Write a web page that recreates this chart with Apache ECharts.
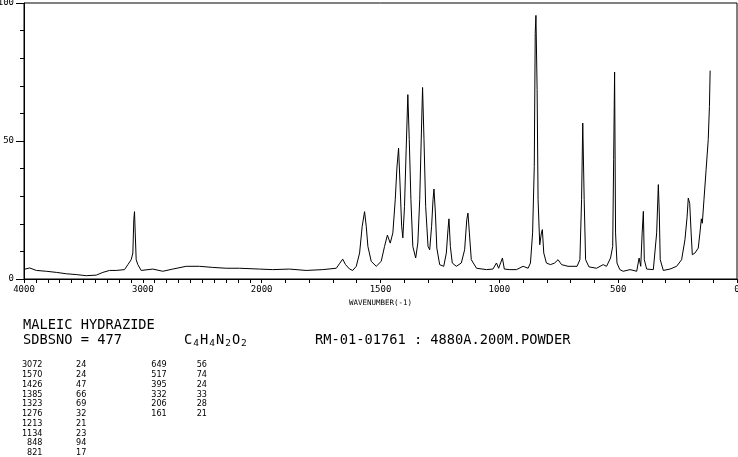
<!DOCTYPE html>
<html><head><meta charset="utf-8">
<script src="https://cdn.jsdelivr.net/npm/echarts@6/dist/echarts.min.js"></script>
<style>html,body{margin:0;padding:0;background:#fff}#c{width:738px;height:457px}</style>
</head><body><div id="c"></div>
<script>
// ---- spectrum (wavenumber cm-1, relative intensity) ----
const wavenumbers = [4000,3952,3896,3812,3728,3644,3560,3476,3392,3336,3280,3224,3154,3126,3098,3084,3076,3070,3064,3056,3042,3014,2916,2832,2748,2635,2524,2412,2299,2187,2019,1954,1883,1813,1743,1686,1673,1659,1647,1630,1617,1602,1588,1577,1567,1560,1553,1539,1518,1497,1483,1471,1459,1448,1438,1431,1424,1418,1411,1406,1399,1392,1385,1379,1372,1364,1352,1343,1335,1328,1323,1317,1310,1300,1293,1285,1279,1275,1269,1263,1251,1234,1223,1216,1212,1206,1198,1181,1160,1146,1137,1132,1126,1118,1096,1054,1027,1012,1003,987,979,956,928,900,879,869,860,853,849,846,841,837,830,823,819,813,802,785,767,753,738,711,673,661,654,649,643,637,623,591,563,549,532,523,519,515,511,505,493,479,450,422,412,405,399,394,390,380,352,338,331,327,323,310,282,254,233,219,210,205,199,193,188,177,163,156,150,146,139,130,121,116,113];
const intensities = [3.5,4.0,3.1,2.8,2.4,1.9,1.6,1.2,1.4,2.4,3.1,3.1,3.4,5.2,7.0,9.4,21.5,24.4,16.7,7.0,5.2,3.1,3.6,2.8,3.6,4.6,4.6,4.2,3.9,3.9,3.6,3.4,3.6,3.1,3.4,3.9,5.5,7.2,5.2,3.6,3.1,4.6,9.4,19.1,24.4,19.1,11.8,6.4,4.6,6.4,11.8,15.9,13.0,16.7,28.7,40.2,47.4,34.8,19.1,14.9,26.3,46.8,66.8,50.5,28.7,11.8,7.6,13.0,28.7,52.9,69.4,50.5,26.3,11.8,10.6,19.1,28.7,32.6,23.9,11.2,5.2,4.6,9.4,17.9,21.8,11.8,5.8,4.6,5.8,10.6,21.5,23.9,16.7,7.0,3.9,3.4,3.6,5.8,3.9,7.6,3.6,3.4,3.4,4.6,3.9,5.8,16.7,40.8,89.0,95.5,68.6,28.7,12.4,16.7,17.9,9.4,5.8,5.2,5.8,7.0,5.2,4.6,4.6,7.0,28.7,56.5,28.7,7.0,4.4,3.9,5.2,4.6,7.6,11.8,43.2,75.0,16.7,5.8,3.4,2.8,3.4,2.8,7.6,4.6,16.7,24.5,7.0,3.6,3.4,16.7,34.2,23.9,7.0,3.1,3.6,4.6,7.0,14.2,22.5,29.3,27.4,16.7,8.8,9.4,11.2,16.7,21.8,20.2,28.7,39.6,50.5,62.5,75.5];

// ---- axes ----
const xTickLabels = [4000,3000,2000,1500,1000,500,0];
const yTickLabels = [0,50,100];
const xAxisTitle = 'WAVENUMBER(-1)';

// ---- texts ----
const compoundName = 'MALEIC HYDRAZIDE';
const sdbsLine = 'SDBSNO = 477';
const formulaParts = [['C','4'],['H','4'],['N','2'],['O','2']];
const measureLine = 'RM-01-01761 : 4880A.200M.POWDER';

// ---- peak table ----
const peakWnA  = [3072,1570,1426,1385,1323,1276,1213,1134,848,821];
const peakIntA = [24,24,47,66,69,32,21,23,94,17];
const peakWnB  = [649,517,395,332,206,161];
const peakIntB = [56,74,24,33,28,21];

// axis is compressed by 2 above 2000 cm-1
function toU(w){ return w > 2000 ? 2000 + (w - 2000) / 2 : w; }
function fromU(u){ return u > 2000 ? 2000 + (u - 2000) * 2 : u; }

const xTicksAll = [];
for (let w = 0; w <= 4000; w += 100) xTicksAll.push(toU(w));

const seriesData = wavenumbers.map((w, i) => [toU(w), intensities[i]]);

const axisFont = { fontFamily: 'DejaVu Sans Mono', fontSize: 9, color: '#000' };
const bigFont = '13.7px "DejaVu Sans Mono"';
const tblFont = '9px "DejaVu Sans Condensed"';

const chart = echarts.init(document.getElementById('c'), null, { renderer: 'canvas' });
chart.setOption({
  animation: false,
  backgroundColor: '#fff',
  grid: { left: 24, right: 1, top: 3, bottom: 178, show: true, borderColor: '#000', borderWidth: 1,
          containLabel: false, outerBoundsMode: 'none' },
  xAxis: {
    type: 'value', min: 0, max: 3000, inverse: true, position: 'bottom',
    name: xAxisTitle, nameLocation: 'middle', nameGap: 17,
    nameTextStyle: { fontFamily: 'DejaVu Sans Mono', fontSize: 7.5, color: '#000' },
    axisLine: { show: true, onZero: false, lineStyle: { color: '#000', width: 1 } },
    axisTick: { show: true, inside: false, length: 4, customValues: xTicksAll, lineStyle: { color: '#000' } },
    axisLabel: Object.assign({ show: true, margin: 6, customValues: xTickLabels.map(toU),
      formatter: v => String(Math.round(fromU(v))) }, axisFont),
    minorTick: { show: false },
    splitLine: { show: false }
  },
  yAxis: {
    type: 'value', min: 0, max: 100, interval: 50, position: 'left',
    axisLine: { show: true, onZero: false, lineStyle: { color: '#000', width: 1 } },
    axisTick: { show: true, inside: false, length: 8, lineStyle: { color: '#000' } },
    minorTick: { show: true, splitNumber: 5, length: 4, lineStyle: { color: '#000' } },
    axisLabel: Object.assign({ show: true, margin: 10 }, axisFont),
    splitLine: { show: false },
    minorSplitLine: { show: false }
  },
  series: [{
    type: 'line', data: seriesData,
    showSymbol: false, symbol: 'none', smooth: false,
    lineStyle: { color: '#000', width: 1 }
  }],
  graphic: [
    { type: 'text', x: 23, y: 325.5, style: { text: compoundName, font: bigFont, fill: '#000', textVerticalAlign: 'middle' } },
    { type: 'text', x: 23, y: 340.5, style: { text: sdbsLine, font: bigFont, fill: '#000', textVerticalAlign: 'middle' } },
    { type: 'text', x: 184, y: 340.5, style: {
        text: formulaParts.map(p => '{n|' + p[0] + '}{s|' + p[1] + '}').join(''),
        fill: '#000', textVerticalAlign: 'middle',
        rich: { n: { font: bigFont, fill: '#000' }, s: { font: '9.5px "DejaVu Sans Mono"', fill: '#000', padding: [7, 1, 0, 1] } }
    } },
    { type: 'text', x: 315, y: 340.5, style: { text: measureLine, font: bigFont, fill: '#000', textVerticalAlign: 'middle' } },
    { type: 'text', x: 42.5, y: 360.2, style: { text: peakWnA.join('\n'), font: tblFont, fill: '#000', textAlign: 'right', textVerticalAlign: 'top', lineHeight: 9.75 } },
    { type: 'text', x: 76, y: 360.2, style: { text: peakIntA.join('\n'), font: tblFont, fill: '#000', textAlign: 'left', textVerticalAlign: 'top', lineHeight: 9.75 } },
    { type: 'text', x: 166.7, y: 360.2, style: { text: peakWnB.join('\n'), font: tblFont, fill: '#000', textAlign: 'right', textVerticalAlign: 'top', lineHeight: 9.75 } },
    { type: 'text', x: 196.7, y: 360.2, style: { text: peakIntB.join('\n'), font: tblFont, fill: '#000', textAlign: 'left', textVerticalAlign: 'top', lineHeight: 9.75 } }
  ]
});
</script>
</body></html>
